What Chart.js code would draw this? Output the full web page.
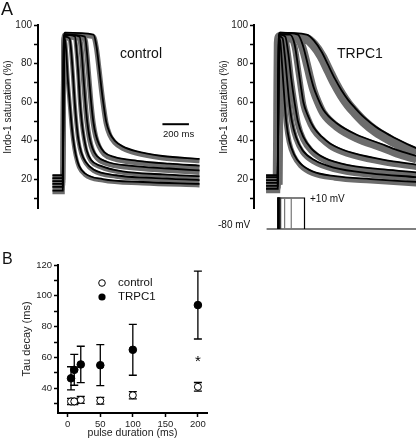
<!DOCTYPE html>
<html>
<head>
<meta charset="utf-8">
<title>Indo-1 transients</title>
<script src="https://cdn.jsdelivr.net/npm/chart.js@4.4.1/dist/chart.umd.min.js"></script>
<style>
  body { margin: 0; background: #fff; font-family: "Liberation Sans", Arial, sans-serif; }
  #fig { position: relative; width: 416px; height: 445px; overflow: hidden; }
  .box { position: absolute; }
  .txt { position: absolute; white-space: nowrap; color: #111; line-height: 1; }
  .vt { position: absolute; white-space: nowrap; color: #222; font-size: 10px; line-height: 1;
        transform: translate(-50%, -50%) rotate(-90deg); }
</style>
</head>
<body>
<div id="fig">
  <div class="box" style="left:0;top:0;width:210px;height:235px"><canvas id="ctrlChart" width="210" height="235"></canvas></div>
  <div class="box" style="left:208px;top:0;width:208px;height:235px"><canvas id="trpcChart" width="208" height="235"></canvas></div>
  <div class="box" style="left:208px;top:185px;width:208px;height:50px"><canvas id="protoChart" width="208" height="50"></canvas></div>
  <div class="box" style="left:0;top:240px;width:215px;height:205px"><canvas id="tauChart" width="215" height="205"></canvas></div>
  <div class="txt" style="left:1px;top:0px;font-size:18px">A</div>
  <div class="txt" style="left:2px;top:251px;font-size:16px">B</div>
  <div class="vt" style="left:8px;top:107px">Indo-1 saturation (%)</div>
  <div class="vt" style="left:224px;top:107px">Indo-1 saturation (%)</div>
  <div class="txt" style="left:120px;top:46px;font-size:14px">control</div>
  <div class="txt" style="left:337px;top:46px;font-size:14px">TRPC1</div>
  <div class="txt" style="left:163px;top:128.5px;font-size:9.5px">200 ms</div>
  <div class="txt" style="left:310px;top:193.5px;font-size:10px">+10 mV</div>
  <div class="txt" style="left:218px;top:219.5px;font-size:10px">-80 mV</div>
</div>
<script>
// pulse durations (ms)
const pulseDur = [5, 10, 20, 50, 100, 200];

// Indo-1 saturation traces, [time ms, %], one per pulse duration
const ctrl5   = [[-80,14],[-2,14],[2,50],[6,88],[14,93],[24,86],[35,73],[50,60],[62,50],[76,41],[95,33],[120,27],[165,23],[300,20],[600,18.5],[1030,17.5]];
const ctrl10  = [[-80,16],[-2,16],[2,52],[6,89],[14,94],[50,93],[62,86],[75,74],[88,60],[100,50],[115,41],[137,34],[170,29],[230,25],[400,22],[700,20.5],[1030,19.5]];
const ctrl20  = [[-80,17.5],[-2,17.5],[2,54],[6,90],[14,95],[90,94],[103,86],[116,74],[128,60],[141,50],[157,42],[178,35],[210,30],[280,27],[450,24],[750,22.5],[1030,21.5]];
const ctrl50  = [[-80,19],[-2,19],[2,56],[6,91],[14,95],[125,94],[140,86],[154,73],[168,60],[182,50],[199,42],[222,36],[255,32],[330,29],[500,27],[800,25.5],[1030,24.5]];
const ctrl100 = [[-80,20.5],[-2,20.5],[2,58],[6,92],[14,95],[165,94],[180,86],[196,73],[212,60],[228,50],[247,43],[272,38],[310,34],[385,31.5],[560,29.5],[800,28],[1030,27]];
const ctrl200 = [[-80,22],[-2,22],[2,60],[6,93],[14,96],[230,95],[252,89],[272,78],[290,67],[305,59],[325,50],[352,44],[390,40],[450,37],[550,34.5],[750,32],[1030,30.5]];

const trpc5   = [[-90,15],[-2,15],[2,50],[6,88],[12,93],[18,91],[30,80],[50,60],[62,50],[85,40],[120,33],[170,28],[260,24],[430,21.5],[700,20],[1045,18.5]];
const trpc10  = [[-90,16.5],[-2,16.5],[2,52],[6,89],[14,94],[35,93],[50,85],[68,72],[85,60],[105,50],[135,42],[185,35],[270,30],[420,26],[700,23],[1045,21]];
const trpc20  = [[-90,18],[-2,18],[2,54],[6,90],[14,95],[55,94],[78,85],[100,72],[125,60],[150,50],[190,42],[250,36],[350,31],[550,27],[800,25],[1045,23.5]];
const trpc50  = [[-90,19.5],[-2,19.5],[2,56],[6,91],[14,95],[90,95],[125,90],[154,77],[175,67],[191,60],[225,53],[267,47],[330,42],[392,38.5],[480,35.5],[569,33.5],[800,30],[1045,27.5]];
const trpc100 = [[-90,21],[-2,21],[2,58],[6,92],[14,96],[150,95],[185,90],[216,82],[240,75],[267,68],[300,62],[342,56],[443,49],[594,43],[770,38.5],[900,35],[1045,32]];
const trpc200 = [[-90,22],[-2,22],[2,60],[6,93],[14,96],[216,95],[270,92],[330,86],[380,79],[430,72],[480,66],[530,61],[580,57],[650,52],[740,47],[850,42.5],[950,39],[1045,36]];

const satTicks = [10, 20, 30, 40, 50, 60, 70, 80, 90, 100];
const scaleBar = [[750, 48.5], [950, 48.5]];   // 200 ms

// voltage protocol (mV)
const vHold = -80, vStep = 10;

// panel B: tau of decay (ms)
const ctrlTau = [31.5, 31.5, 32.5, 32, 35.5, 41];
const ctrlErr = [2, 2, 2.2, 2.2, 2.4, 2.8];
const trpcTau = [46.5, 52, 55.5, 55, 65, 94];
const trpcErr = [7.5, 10, 11.8, 13.3, 16.5, 22];
const durTicks = [0, 25, 50, 75, 100, 125, 150, 175, 200];
const tauTicks = [30, 40, 50, 60, 70, 80, 90, 100, 110, 120];

Chart.defaults.font.family = '"Liberation Sans", Arial, sans-serif';
Chart.defaults.color = '#222';
Chart.defaults.animation = false;

// noise band: wide grey copy of each trace, nudged down under the black line
const bandShift = {
  id: 'bandShift',
  beforeDatasetDraw(chart, args) {
    const s = chart.data.datasets[args.index].shift;
    if (s) { chart.ctx.save(); chart.ctx.translate(0, s); }
  },
  afterDatasetDraw(chart, args) {
    if (chart.data.datasets[args.index].shift) chart.ctx.restore();
  }
};

function traceSets(traces, bands) {
  const lines = traces.map(d => ({ data: d, borderColor: '#000', borderWidth: 1.8 }));
  const grey = traces.map((d, i) => ({ data: d, borderColor: '#6c6c6c', borderWidth: bands[i], shift: bands[i] / 2 - 0.5 }));
  return lines.concat(grey);
}

function satAxis(width) {
  return {
    min: 5, max: 100,
    afterFit: s => { s.width = width; },
    afterBuildTicks: s => { s.ticks = satTicks.map(v => ({ value: v })); },
    ticks: { callback: v => v % 20 === 0 ? v : '', font: { size: 10 }, padding: 2 },
    grid: { drawOnChartArea: false, tickLength: 4, tickWidth: 1.5, tickColor: '#000' },
    border: { color: '#000', width: 2 }
  };
}

function traceChart(id, sets, xMin, xMax, yWidth) {
  return new Chart(document.getElementById(id), {
    type: 'line',
    data: { datasets: sets },
    options: {
      responsive: false,
      layout: { padding: { top: 25, bottom: 27, left: 0, right: 0 } },
      elements: { point: { radius: 0 }, line: { cubicInterpolationMode: 'monotone', fill: false } },
      plugins: { legend: { display: false }, tooltip: { enabled: false } },
      scales: {
        x: { type: 'linear', min: xMin, max: xMax, display: false },
        y: satAxis(yWidth)
      }
    },
    plugins: [bandShift]
  });
}

const ctrlSets = traceSets([ctrl5, ctrl10, ctrl20, ctrl50, ctrl100, ctrl200], [4, 4, 4, 5, 5, 5]);
ctrlSets.unshift({ data: scaleBar, borderColor: '#000', borderWidth: 2 });
traceChart('ctrlChart', ctrlSets, -189, 1109, 38);
traceChart('trpcChart', traceSets([trpc5, trpc10, trpc20, trpc50, trpc100, trpc200], [5, 5, 6, 6, 8, 10]), -181, 1041, 46);

// voltage steps under the TRPC1 traces
const pulseColors = ['#000', '#000', '#333', '#777', '#777', '#000'];
const protoSets = pulseDur.map((d, i) => ({
  data: [[0, vHold], [0, vStep], [d, vStep], [d, vHold]],
  borderColor: pulseColors[i], borderWidth: 1.2, clip: false
}));
protoSets.push({ data: [[-86, vHold], [1041, vHold]], borderColor: '#000', borderWidth: 1.2, clip: false });
new Chart(document.getElementById('protoChart'), {
  type: 'line',
  data: { datasets: protoSets },
  options: {
    responsive: false,
    layout: { padding: { top: 13, bottom: 6, left: 46, right: 0 } },
    elements: { point: { radius: 0 }, line: { tension: 0, fill: false } },
    plugins: { legend: { display: false }, tooltip: { enabled: false } },
    scales: {
      x: { type: 'linear', min: -181, max: 1041, display: false },
      y: { min: vHold, max: vStep, display: false }
    }
  }
});

// panel B
const errBars = {
  id: 'errBars',
  beforeDatasetsDraw(chart) {
    const { ctx, scales: { x, y } } = chart;
    ctx.save();
    ctx.strokeStyle = '#000';
    ctx.lineWidth = 1.3;
    [[ctrlTau, ctrlErr], [trpcTau, trpcErr]].forEach(([m, e]) => {
      pulseDur.forEach((d, i) => {
        const px = x.getPixelForValue(d);
        const lo = y.getPixelForValue(m[i] - e[i]);
        const hi = y.getPixelForValue(m[i] + e[i]);
        ctx.beginPath();
        ctx.moveTo(px, lo); ctx.lineTo(px, hi);
        ctx.moveTo(px - 4, lo); ctx.lineTo(px + 4, lo);
        ctx.moveTo(px - 4, hi); ctx.lineTo(px + 4, hi);
        ctx.stroke();
      });
    });
    ctx.restore();
  },
  afterDraw(chart) {
    const { ctx, chartArea: a, scales: { x, y } } = chart;
    ctx.save();
    ctx.font = '15px "Liberation Sans", Arial, sans-serif';
    ctx.fillStyle = '#000';
    ctx.textAlign = 'center';
    ctx.textBaseline = 'middle';
    ctx.fillText('*', x.getPixelForValue(200), y.getPixelForValue(60) + 4);
    // legend
    ctx.lineWidth = 1;
    ctx.strokeStyle = '#000';
    ctx.beginPath(); ctx.arc(a.left + 44, a.top + 18, 3.3, 0, Math.PI * 2);
    ctx.fillStyle = '#fff'; ctx.fill(); ctx.stroke();
    ctx.beginPath(); ctx.arc(a.left + 44, a.top + 32, 3.6, 0, Math.PI * 2);
    ctx.fillStyle = '#000'; ctx.fill();
    ctx.font = '11.5px "Liberation Sans", Arial, sans-serif';
    ctx.textAlign = 'left';
    ctx.fillStyle = '#111';
    ctx.fillText('control', a.left + 60, a.top + 18);
    ctx.fillText('TRPC1', a.left + 60, a.top + 32);
    ctx.restore();
  }
};

new Chart(document.getElementById('tauChart'), {
  type: 'scatter',
  data: {
    datasets: [
      { label: 'TRPC1', data: pulseDur.map((d, i) => ({ x: d, y: trpcTau[i] })),
        pointRadius: 3.8, pointBackgroundColor: '#000', pointBorderColor: '#000', pointBorderWidth: 1 },
      { label: 'control', data: pulseDur.map((d, i) => ({ x: d, y: ctrlTau[i] })),
        pointRadius: 3.5, pointBackgroundColor: '#fff', pointBorderColor: '#000', pointBorderWidth: 1 }
    ]
  },
  options: {
    responsive: false,
    layout: { padding: { top: 25, right: 8, left: 0, bottom: 0 } },
    plugins: { legend: { display: false }, tooltip: { enabled: false } },
    scales: {
      x: {
        type: 'linear', min: -15, max: 214,
        afterFit: s => { s.height = 32; },
        afterBuildTicks: s => { s.ticks = durTicks.map(v => ({ value: v })); },
        ticks: { callback: v => v % 50 === 0 ? v : '', font: { size: 9.5 }, padding: 2, maxRotation: 0 },
        grid: { drawOnChartArea: false, tickLength: 4, tickWidth: 1.5, tickColor: '#000' },
        border: { color: '#000', width: 2 },
        title: { display: true, text: 'pulse duration (ms)', font: { size: 10.5 }, padding: { top: 0, bottom: 6 } }
      },
      y: {
        min: 24, max: 120,
        afterFit: s => { s.width = 58; },
        afterBuildTicks: s => { s.ticks = tauTicks.map(v => ({ value: v })); },
        ticks: { callback: v => v % 20 === 0 ? v : '', font: { size: 9.5 }, padding: 2 },
        grid: { drawOnChartArea: false, tickLength: 4, tickWidth: 1.5, tickColor: '#000' },
        border: { color: '#000', width: 2 },
        title: { display: true, text: 'Tau decay (ms)', font: { size: 11 }, padding: { top: 20, bottom: 0 } }
      }
    }
  },
  plugins: [errBars]
});
</script>
</body>
</html>
